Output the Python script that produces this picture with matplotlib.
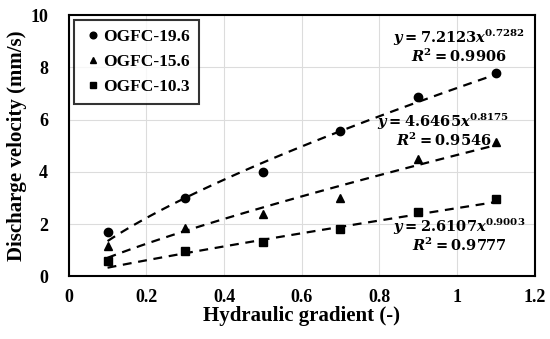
import matplotlib
matplotlib.use('Agg')
import matplotlib.pyplot as plt
import numpy as np

plt.rcParams['font.family'] = 'Liberation Serif'
plt.rcParams['font.weight'] = 'bold'
plt.rcParams['mathtext.fontset'] = 'dejavuserif'

gradient = [0.1, 0.3, 0.5, 0.7, 0.9, 1.1]
v196 = [1.7, 3.0, 4.0, 5.55, 6.85, 7.8]
v156 = [1.15, 1.85, 2.4, 3.0, 4.5, 5.15]
v103 = [0.6, 0.95, 1.3, 1.8, 2.45, 2.95]

labels = ['OGFC-19.6', 'OGFC-15.6', 'OGFC-10.3']
markers = ['o', '^', 's']
# power trendline coefficients (a, b) as printed on the chart
coefs = [(7.2123, 0.7282), (4.6465, 0.8175), (2.6107, 0.9003)]
r2 = ['0.9906', '0.9546', '0.9777']
eq_pos = [(1.005, 9.12, 8.42), (0.965, 5.9, 5.2), (1.005, 1.9, 1.2)]

fig, ax = plt.subplots(figsize=(5.5, 3.39), dpi=100)
fig.subplots_adjust(left=0.125, right=0.972, top=0.955, bottom=0.185)

xs = np.linspace(0.1, 1.1, 100)
for vals, lab, m, (a, b) in zip([v196, v156, v103], labels, markers, coefs):
	ax.plot(gradient, vals, linestyle='none', marker=m, color='black', markersize=6, label=lab)
	ax.plot(xs, a * xs ** b, '--', color='black', linewidth=1.6, dashes=(4, 3))

for (a, b), r, (ex, ey1, ey2) in zip(coefs, r2, eq_pos):
	ax.text(ex, ey1, r'$\mathbfit{y}=\mathbf{%.4f}\mathbfit{x}^{\mathbf{%.4f}}$' % (a, b),
		ha='center', va='center', fontsize=10.5)
	ax.text(ex, ey2, r'$\mathbfit{R}^{\mathbf{2}}=\mathbf{%s}$' % r, ha='center', va='center', fontsize=10.5)

ax.set_xlim(0, 1.2)
ax.set_ylim(0, 10)
ax.set_xticks([0, 0.2, 0.4, 0.6, 0.8, 1, 1.2])
ax.set_xticklabels(['0', '0.2', '0.4', '0.6', '0.8', '1', '1.2'])
ax.set_yticks(range(0, 11, 2))
ax.tick_params(length=0, labelsize=13)
ax.tick_params(axis='x', pad=9)
ax.tick_params(axis='y', pad=15)
ax.grid(color='#dcdcdc', linewidth=0.8)
ax.set_axisbelow(True)
for s in ax.spines.values():
	s.set_linewidth(1.5)
ax.set_xlabel('Hydraulic gradient (-)', fontsize=15, fontweight='bold', labelpad=0)
ax.set_ylabel('Discharge velocity (mm/s)', fontsize=15, fontweight='bold', labelpad=2)

leg = ax.legend(loc='upper left', fontsize=12.5, frameon=True, fancybox=False, edgecolor='black',
	handletextpad=0.0, handlelength=1.2, borderaxespad=0.3, labelspacing=0.5, markerscale=0.8,
	borderpad=0.5)
leg.get_frame().set_linewidth(1.5)

plt.savefig('out.png', dpi=100)
